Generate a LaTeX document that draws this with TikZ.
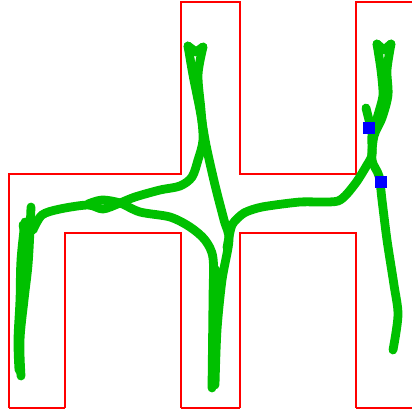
\documentclass[tikz,border=0pt]{standalone}
\begin{document}
\begin{tikzpicture}[x=1pt,y=-1pt,
  wall/.style={draw=red,line width=1.4pt},
  floor/.style={draw=red,line width=2.6pt},
  track/.style={draw={rgb,255:red,0;green,192;blue,0},line width=8.8pt,line cap=round,line join=round},
  marker/.style={fill={rgb,255:red,0;green,0;blue,255}}]
\useasboundingbox (0,0) rectangle (412,413);
% walls of the corridor
\draw[wall] (9,408) -- (9,174) -- (181,174) -- (181,2) -- (240,2) -- (240,174) -- (356,174) -- (356,2) -- (412,2);
\draw[wall] (65,408) -- (65,233) -- (181,233) -- (181,408);
\draw[wall] (240,408) -- (240,233) -- (356,233) -- (356,408);
\draw[floor] (9,408) -- (65,408);
\draw[floor] (181,408) -- (240,408);
\draw[floor] (356,408) -- (412,408);
% left column
\draw[track] plot[smooth,tension=0.6] coordinates {(31,207) (30,230) (28,265) (24,300) (20,340) (21,376)};
\draw[track] plot[smooth,tension=0.6] coordinates {(25,222) (21,260) (20,300) (18,340) (19,370)};
\draw[track] plot[smooth,tension=0.6] coordinates {(23,225) (26,245) (24,275)};
% upper route through the tower
\draw[track] plot[smooth,tension=0.5] coordinates {(203,47) (198,75) (201,110) (203,140) (198,160) (192,177) (180,186) (160,190) (135,197) (120,203) (103,209) (88,205) (60,209) (42,215) (33,230)};
\draw[track] plot[smooth,tension=0.5] coordinates {(188,46) (193,75) (200,110) (206,145) (215,185) (224,220) (229,240) (222,280) (217,330) (215,385)};
\draw[track] (188,46) -- (196,52) -- (203,47);
% lower route into the middle column
\draw[track] plot[smooth,tension=0.5] coordinates {(88,204) (102,200) (120,203) (140,212) (170,217) (190,227) (205,240) (213,258) (213,300) (212,388)};
\draw[track] plot[smooth,tension=0.5] coordinates {(216,270) (218,300) (214,350)};
% route to the right column
\draw[track] plot[smooth,tension=0.4] coordinates {(227,248) (232,225) (244,213) (262,207) (300,202) (338,201) (355,184) (367,165) (372,155) (372,135) (378,115) (383,95) (381,70) (377,44)};
\draw[track] plot[smooth,tension=0.5] coordinates {(391,44) (387,70) (388,95) (382,118) (374,136) (372,160) (379,176) (382,200) (387,240) (394,285) (398,315) (393,350)};
\draw[track] (377,44) -- (384,50) -- (391,44);
\draw[track] (366,108) -- (370,124);
% markers
\fill[marker] (362.5,121.5) rectangle (374.5,133.5);
\fill[marker] (374.5,175.5) rectangle (386.5,187.5);
\end{tikzpicture}
\end{document}
